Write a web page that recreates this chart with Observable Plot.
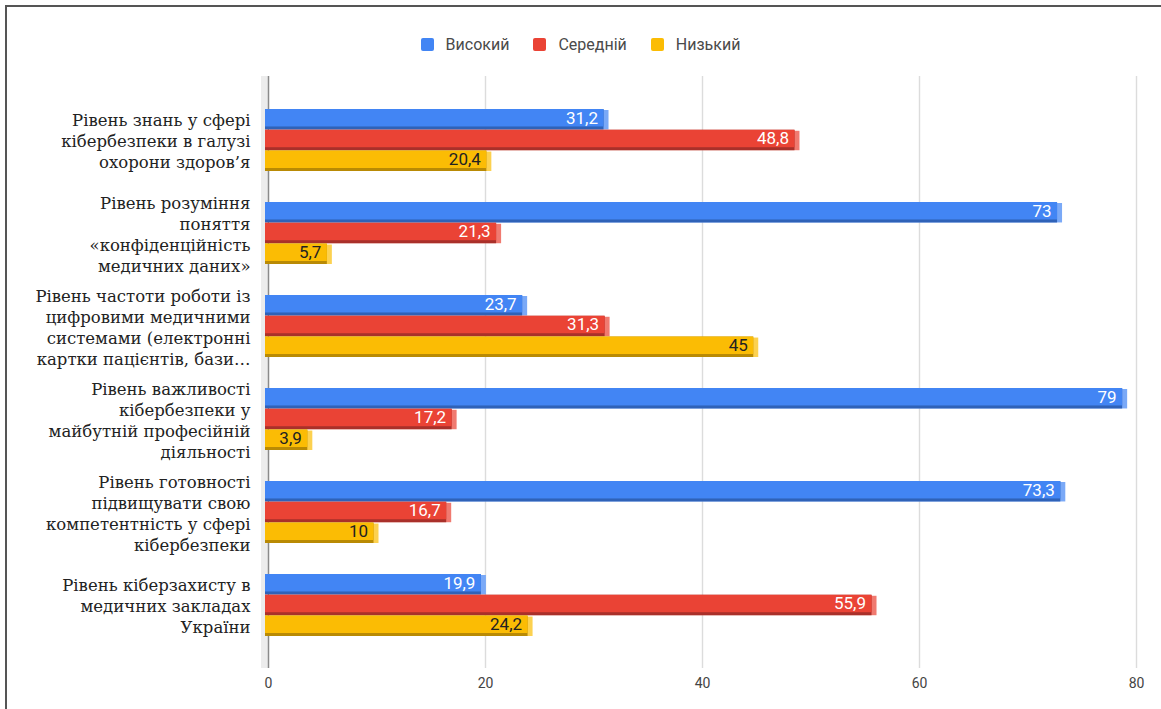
<!DOCTYPE html>
<html>
<head>
<meta charset="utf-8">
<script src="https://cdn.jsdelivr.net/npm/d3@7"></script>
<script src="https://cdn.jsdelivr.net/npm/@observablehq/plot@0.6"></script>
<style>
  html, body { margin: 0; padding: 0; background: #fff; }
  #wrap { position: relative; width: 1161px; height: 709px; overflow: hidden; }
  #border { position: absolute; left: 5px; top: 5px; right: -10px; bottom: -10px;
            border-top: 2px solid #555; border-left: 2px solid #555; }
  #legend { position: absolute; left: 0; top: 34px; width: 1161px; height: 20px;
            display: flex; justify-content: center; align-items: center;
            font-family: Roboto, sans-serif; font-size: 16px; color: #4a4a4a; }
  .item { display: flex; align-items: center; margin: 0 12px; }
  .sw { width: 13px; height: 13px; border-radius: 2px; margin-right: 12px; }
  #chart { position: absolute; left: 0; top: 0; }
</style>
</head>
<body>
<div id="wrap">
  <div id="border"></div>
  <div id="chart"></div>
  <div id="legend"></div>
</div>
<script>
const categories = [
  "Рівень знань у сфері\nкібербезпеки в галузі\nохорони здоров’я",
  "Рівень розуміння\nпоняття\n«конфіденційність\nмедичних даних»",
  "Рівень частоти роботи із\nцифровими медичними\nсистемами (електронні\nкартки пацієнтів, бази…",
  "Рівень важливості\nкібербезпеки у\nмайбутній професійній\nдіяльності",
  "Рівень готовності\nпідвищувати свою\nкомпетентність у сфері\nкібербезпеки",
  "Рівень кіберзахисту в\nмедичних закладах\nУкраїни"
];
const series = ["Високий", "Середній", "Низький"];
const highValues = [31.2, 73, 23.7, 79, 73.3, 19.9];
const midValues  = [48.8, 21.3, 31.3, 17.2, 16.7, 55.9];
const lowValues  = [20.4, 5.7, 45, 3.9, 10, 24.2];
const xTicks = [0, 20, 40, 60, 80];

const colors     = ["#4285F4", "#EA4335", "#FBBC04"];
const darkColors = ["#2f62b8", "#a9302a", "#b98a04"];
const lightColors= ["#7aa9f7", "#f07a70", "#fcd150"];
const labelColors= ["#ffffff", "#ffffff", "#222222"];

const valuesBySeries = [highValues, midValues, lowValues];
const data = [];
series.forEach((s, si) => categories.forEach((c, ci) =>
  data.push({category: c, series: s, si, value: valuesBySeries[si][ci]})));

const W = 1161, H = 709, mTop = 76, mBottom = 41, mLeft = 268, mRight = 25;
const pad = 1/3;
const step = (H - mTop - mBottom) / (categories.length - pad + 2 * pad);
const bw = step * (1 - pad);
const slot = bw / 3;
const depth = 3, shift = -3;

const fmt = v => String(v).replace(".", ",");

const marks = [
  Plot.gridX({ticks: xTicks.filter(t => t !== 0), stroke: "#dcdcdc", strokeOpacity: 1, strokeWidth: 1.4}),
  Plot.ruleX([0], {stroke: "#ececec", strokeWidth: 7, dx: -4}),
  Plot.ruleX([0], {stroke: "#8a8a8a", strokeWidth: 1.5})
];
series.forEach((s, si) => {
  const d = data.filter(r => r.si === si);
  const insetTop = si * slot, insetBottom = (2 - si) * slot;
  marks.push(Plot.barX(d, {x: "value", y: "category", fill: lightColors[si], insetTop: insetTop + 1, insetBottom, dx: 2}));
  marks.push(Plot.barX(d, {x: "value", y: "category", fill: darkColors[si], insetTop, insetBottom, dx: shift}));
  marks.push(Plot.barX(d, {x: "value", y: "category", fill: colors[si], insetTop, insetBottom: insetBottom + depth, dx: shift}));
});
series.forEach((s, si) => {
  const d = data.filter(r => r.si === si);
  marks.push(Plot.text(d, {x: "value", y: "category", text: r => fmt(r.value), textAnchor: "end",
    dx: shift - 6, dy: (si - 1) * slot - depth / 2, fill: labelColors[si],
    fontSize: 17, fontFamily: "Roboto, sans-serif"}));
});
marks.push(Plot.axisY({tickSize: 0, tickPadding: 18, fontSize: 16.5, fontFamily: "'DejaVu Serif', serif",
  color: "#222", lineHeight: 1.27, textOverflow: null, lineWidth: Infinity}));
marks.push(Plot.axisX({ticks: xTicks, tickSize: 0, tickPadding: 10, fontSize: 14, fontFamily: "Roboto, sans-serif", color: "#444"}));

const chart = Plot.plot({
  width: W, height: H,
  marginTop: mTop, marginBottom: mBottom, marginLeft: mLeft, marginRight: mRight,
  style: {background: "transparent", overflow: "visible"},
  x: {domain: [0, 80], label: null},
  y: {domain: categories, padding: pad, label: null},
  marks
});
document.getElementById("chart").appendChild(chart);

const legend = document.getElementById("legend");
series.forEach((s, si) => {
  const item = document.createElement("div");
  item.className = "item";
  const sw = document.createElement("div");
  sw.className = "sw";
  sw.style.background = colors[si];
  const t = document.createElement("span");
  t.textContent = s;
  item.appendChild(sw); item.appendChild(t);
  legend.appendChild(item);
});
</script>
</body>
</html>
